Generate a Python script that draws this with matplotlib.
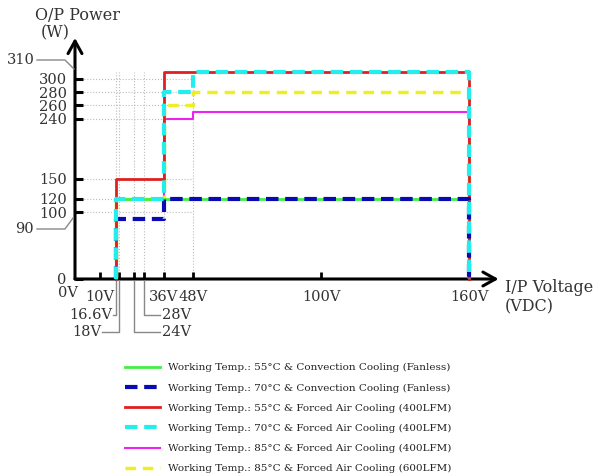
import numpy as np
import matplotlib.pyplot as plt
from matplotlib.lines import Line2D

plt.rcParams['font.family'] = 'DejaVu Serif'

W, H = 604, 474

# each curve: voltage edges and the power level between consecutive edges
green_v = [16.6, 160]
green_p = [120]
blue_v = [16.6, 36, 160]
blue_p = [90, 120]
red_v = [16.6, 36, 160]
red_p = [150, 310]
cyan_v = [16.6, 36, 48, 160]
cyan_p = [120, 280, 310]
mag_v = [16.6, 36, 48, 160]
mag_p = [120, 240, 250]
yel_v = [16.6, 36, 48, 160]
yel_p = [120, 260, 280]

labels = [
    "Working Temp.: 55°C & Convection Cooling (Fanless)",
    "Working Temp.: 70°C & Convection Cooling (Fanless)",
    "Working Temp.: 55°C & Forced Air Cooling (400LFM)",
    "Working Temp.: 70°C & Forced Air Cooling (400LFM)",
    "Working Temp.: 85°C & Forced Air Cooling (400LFM)",
    "Working Temp.: 85°C & Forced Air Cooling (600LFM)",
]

y_ticks = [0, 100, 120, 150, 240, 260, 280, 300]
x_ticks = [10, 18, 24, 28, 36, 48, 100, 160]
x_ticklabels = ['10V', '', '', '', '36V', '48V', '100V', '160V']
grid_v = [16.6, 18, 24, 28, 36, 48]


def steps(v, p):
    x = np.repeat(v, 2)
    y = np.concatenate([[0], np.repeat(p, 2), [0]])
    return x, y


def fp(x, y):
    # pixel position -> figure fraction
    return x / W, 1 - y / H


fig = plt.figure(figsize=(6.04, 4.74), dpi=100)
ax = fig.add_axes([75 / W, 1 - 279 / H, 394 / W, 207 / H])
ax.set_xlim(0, 160)
ax.set_ylim(0, 310)
for s in ax.spines.values():
    s.set_visible(False)

# dotted guides
for v in grid_v:
    ax.plot([v, v], [0, 310], ':', color='#bbbbbb', lw=0.8, zorder=1)
for p in y_ticks[1:]:
    ax.plot([0, 48], [p, p], ':', color='#bbbbbb', lw=0.8, zorder=1)

h = []
h += ax.plot(*steps(green_v, green_p), color='#44ee44', lw=2, zorder=3)
h += ax.plot(*steps(blue_v, blue_p), color='#0a0ab4', lw=3, ls=(0, (3, 1.6)), zorder=6)
h += ax.plot(*steps(red_v, red_p), color='#e02020', lw=2, zorder=4)
h += ax.plot(*steps(cyan_v, cyan_p), color='#22eeee', lw=3, ls=(0, (3, 1.6)), zorder=7)
h += ax.plot(*steps(mag_v, mag_p), color='#ee22ee', lw=1.5, zorder=2.5)
h += ax.plot(*steps(yel_v, yel_p), color='#eeee22', lw=2.5, ls=(0, (3, 2)), zorder=2.6)
for l in h:
    l.set_clip_on(False)

# axes with arrow heads
arrow = dict(arrowstyle='->,head_length=0.9,head_width=0.5', lw=2.2, color='black',
             shrinkA=0, shrinkB=0)
ax.annotate('', xy=(0, 361), xytext=(0, 0), arrowprops=arrow, annotation_clip=False)
ax.annotate('', xy=(172, 0), xytext=(0, 0), arrowprops=arrow, annotation_clip=False)

ax.set_yticks(y_ticks)
ax.set_yticklabels([str(t) for t in y_ticks])
ax.set_xticks(x_ticks)
ax.set_xticklabels(x_ticklabels)
ax.tick_params(axis='y', direction='in', length=6, width=2.2, pad=6, labelsize=10.5,
               colors='black', labelcolor='#333333')
ax.tick_params(axis='x', direction='in', length=5, width=2, pad=8, labelsize=10.5,
               labelcolor='#333333')

txt = dict(color='#333333', fontsize=10.5, va='center')
fig.text(*fp(68, 293), '0V', ha='center', **txt)
fig.text(*fp(77, 15), 'O/P Power', ha='center', **dict(txt, fontsize=11.5))
fig.text(*fp(55, 33), '(W)', ha='center', **dict(txt, fontsize=11.5))
fig.text(*fp(505, 288), 'I/P Voltage', ha='left', **dict(txt, fontsize=11.5))
fig.text(*fp(505, 307), '(VDC)', ha='left', **dict(txt, fontsize=11.5))
fig.text(*fp(35, 60), '310', ha='right', **txt)
fig.text(*fp(34, 229), '90', ha='right', **txt)
fig.text(*fp(112, 315), '16.6V', ha='right', **txt)
fig.text(*fp(101, 332), '18V', ha='right', **txt)
fig.text(*fp(162, 332), '24V', ha='left', **txt)
fig.text(*fp(162, 315), '28V', ha='left', **txt)

leaders = [
    [(37, 60), (65, 60), (74, 69)],
    [(37, 229), (65, 229), (73, 218)],
    [(113, 315), (116, 315), (116, 281)],
    [(102, 332), (119, 332), (119, 281)],
    [(134, 281), (134, 332), (160, 332)],
    [(144, 281), (144, 315), (160, 315)],
]
for pts in leaders:
    xs, ys = zip(*[fp(x, y) for x, y in pts])
    fig.add_artist(Line2D(xs, ys, color='#888888', lw=1, transform=fig.transFigure))

fig.legend(h, labels, loc='upper left', bbox_to_anchor=fp(125, 363), frameon=False,
           fontsize=7.5, handlelength=3.4, handletextpad=0.7, labelspacing=1.05,
           borderpad=0, borderaxespad=0, labelcolor='#222222')

fig.savefig('out.png', dpi=100)
